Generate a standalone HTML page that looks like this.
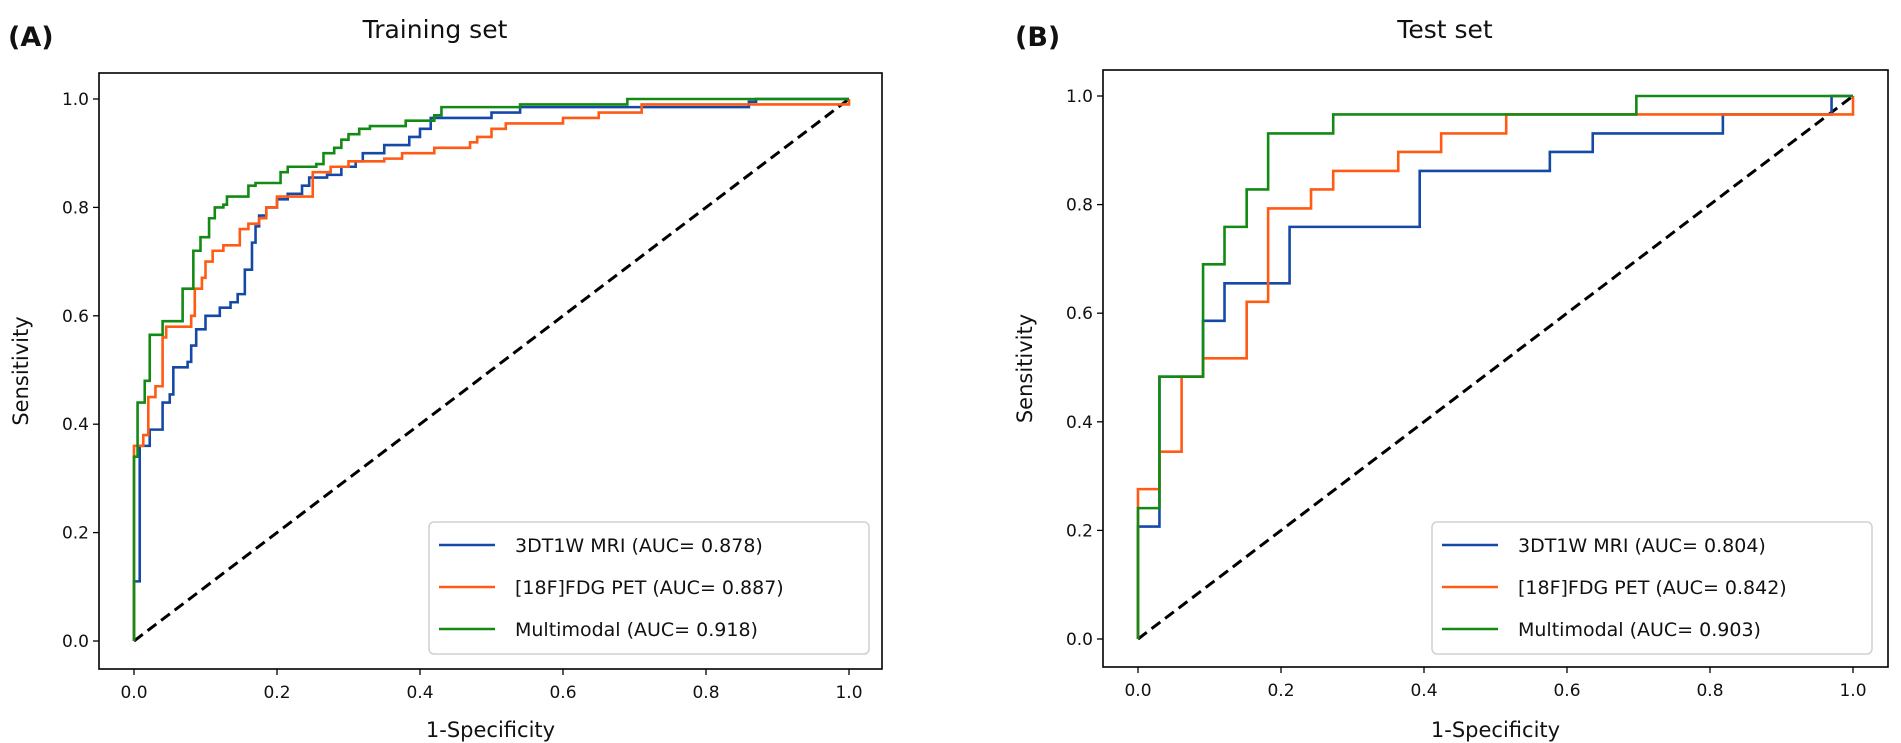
<!DOCTYPE html>
<html><head><meta charset="utf-8"><style>
html,body{margin:0;padding:0;background:#fff;}
svg{display:block;font-family:"DejaVu Sans","Liberation Sans",sans-serif;}
</style></head><body>
<svg id="chart" width="1901" height="743" viewBox="0 0 1901 743"></svg>
<script>
const ticks=[0,0.2,0.4,0.6,0.8,1.0];
const tickLabels=["0.0","0.2","0.4","0.6","0.8","1.0"];
const seriesNames=["3DT1W MRI","[18F]FDG PET","Multimodal"];
const aucTrain=["0.878","0.887","0.918"];
const aucTest=["0.804","0.842","0.903"];
const colors=["#1549a8","#ff5b14","#138a13"];
// training set (fpr, tpr) step points
const trMriX=[0,0.008,0.022,0.04,0.05,0.055,0.075,0.08,0.087,0.1,0.12,0.135,0.145,0.155,0.165,0.17,0.175,0.185,0.2,0.215,0.235,0.245,0.27,0.29,0.31,0.32,0.35,0.385,0.4,0.415,0.5,0.54,0.86,0.87,1];
const trMriY=[0.11,0.36,0.39,0.44,0.455,0.505,0.515,0.545,0.575,0.6,0.615,0.625,0.64,0.685,0.735,0.765,0.785,0.8,0.815,0.825,0.84,0.855,0.86,0.875,0.885,0.9,0.915,0.93,0.945,0.965,0.975,0.985,0.995,1,1];
const trPetX=[0,0.013,0.02,0.03,0.04,0.045,0.08,0.085,0.095,0.1,0.11,0.125,0.148,0.16,0.175,0.185,0.2,0.25,0.275,0.3,0.35,0.375,0.42,0.47,0.48,0.5,0.52,0.6,0.65,0.71,0.81,1];
const trPetY=[0.36,0.38,0.45,0.47,0.56,0.58,0.6,0.65,0.67,0.7,0.72,0.73,0.76,0.77,0.78,0.8,0.82,0.865,0.875,0.885,0.89,0.9,0.91,0.92,0.93,0.945,0.955,0.965,0.975,0.99,0.99,1];
const trMmX=[0,0.005,0.015,0.022,0.04,0.068,0.083,0.093,0.105,0.113,0.125,0.13,0.16,0.17,0.205,0.215,0.255,0.265,0.28,0.29,0.3,0.315,0.33,0.38,0.42,0.43,0.54,0.69,1];
const trMmY=[0.34,0.44,0.48,0.565,0.59,0.65,0.72,0.745,0.78,0.8,0.805,0.82,0.84,0.845,0.865,0.875,0.88,0.9,0.91,0.925,0.935,0.945,0.95,0.96,0.97,0.985,0.99,1,1];
// test set
const teMriX=[0,0.03,0.091,0.121,0.212,0.394,0.576,0.636,0.818,0.97,1];
const teMriY=[0.207,0.483,0.586,0.655,0.759,0.862,0.897,0.931,0.966,1,1];
const tePetX=[0,0.03,0.061,0.091,0.152,0.182,0.242,0.273,0.364,0.424,0.515,1];
const tePetY=[0.276,0.345,0.483,0.517,0.621,0.793,0.828,0.862,0.897,0.931,0.966,1];
const teMmX=[0,0.03,0.091,0.121,0.152,0.182,0.273,0.697,1];
const teMmY=[0.241,0.483,0.69,0.759,0.828,0.931,0.966,1,1];

const NS="http://www.w3.org/2000/svg";
const svg=document.getElementById('chart');
function el(tag,attrs,parent,text){const e=document.createElementNS(NS,tag);for(const k in attrs)e.setAttribute(k,attrs[k]);if(text!==undefined)e.textContent=text;(parent||svg).appendChild(e);return e;}

function panel(cfg){
  const g=el('g',{});
  
  
  const sx=v=>cfg.x0+v*(cfg.x1-cfg.x0);
  const sy=v=>cfg.y0-v*(cfg.y0-cfg.y1);
  const t=el('text',{x:cfg.titleX,y:38,'font-size':25,'text-anchor':'middle',fill:'#111'},g,cfg.title);
  
  
  const lb=el('text',{x:cfg.labelX,y:46,'font-size':27,'font-weight':'bold',fill:'#111'},g,cfg.label);
  
  
  // diagonal
  const d=el('line',{x1:sx(0),y1:sy(0),x2:sx(1),y2:sy(1),stroke:'#000','stroke-width':3,'stroke-dasharray':'11,6'},g);
  
  
  // curves
  cfg.series.forEach((s,i)=>{
    let p='M'+sx(0)+','+sy(0);
    let py=0;
    for(let k=0;k<s.x.length;k++){p+=' L'+sx(s.x[k])+','+sy(py)+' L'+sx(s.x[k])+','+sy(s.y[k]);py=s.y[k];}
    const c=el('path',{d:p,fill:'none',stroke:colors[i],'stroke-width':2.6},g);
    
    
  });
  // axes box
  const b=el('rect',{x:cfg.bx0,y:cfg.by0,width:cfg.bx1-cfg.bx0,height:cfg.by1-cfg.by0,fill:'none',stroke:'#000','stroke-width':1.6},g);
  
  
  ticks.forEach((v,i)=>{
    el('line',{x1:sx(v),y1:cfg.by1,x2:sx(v),y2:cfg.by1+6,stroke:'#000','stroke-width':1.3},g);
    const xt=el('text',{x:sx(v),y:cfg.by1+29,'font-size':17,'text-anchor':'middle',fill:'#111'},g,tickLabels[i]);
    
    
    el('line',{x1:cfg.bx0,y1:sy(v),x2:cfg.bx0-6,y2:sy(v),stroke:'#000','stroke-width':1.3},g);
    const yt=el('text',{x:cfg.bx0-10,y:sy(v)+6,'font-size':17,'text-anchor':'end',fill:'#111'},g,tickLabels[i]);
    
    
  });
  const xl=el('text',{x:(cfg.bx0+cfg.bx1)/2,y:737,'font-size':21,'text-anchor':'middle',fill:'#111'},g,'1-Specificity');
  
  
  const yx=cfg.bx0-71, yc=(cfg.by0+cfg.by1)/2;
  const yl=el('text',{x:yx,y:yc,'font-size':21,'text-anchor':'middle',fill:'#111',transform:'rotate(-90 '+yx+' '+yc+')'},g,'Sensitivity');
  
  
  // legend
  const lg=el('g',{},g);
  
  
  el('rect',{x:cfg.lx,y:522,width:440,height:132,rx:5,fill:'#fff',stroke:'#d0d0d0','stroke-width':1.5},lg);
  [545,587,629].forEach((yy,i)=>{
    const e=el('g',{},lg);
    
    
    el('line',{x1:cfg.lx+10,y1:yy,x2:cfg.lx+66,y2:yy,stroke:colors[i],'stroke-width':2.6},e);
    el('text',{x:cfg.lx+86,y:yy+7,'font-size':19,fill:'#111'},e,seriesNames[i]+' (AUC= '+cfg.auc[i]+')');
  });
}
panel({name:'training-panel',title:'Training set',titleX:435,label:'(A)',labelX:8,x0:134,x1:849,y0:641,y1:99,bx0:99,bx1:882,by0:73,by1:669,lx:429,auc:aucTrain,
  series:[{x:trMriX,y:trMriY},{x:trPetX,y:trPetY},{x:trMmX,y:trMmY}]});
panel({name:'test-panel',title:'Test set',titleX:1445,label:'(B)',labelX:1015,x0:1138,x1:1853,y0:639,y1:96,bx0:1103,bx1:1888,by0:70,by1:667,lx:1432,auc:aucTest,
  series:[{x:teMriX,y:teMriY},{x:tePetX,y:tePetY},{x:teMmX,y:teMmY}]});
</script>
</body></html>
